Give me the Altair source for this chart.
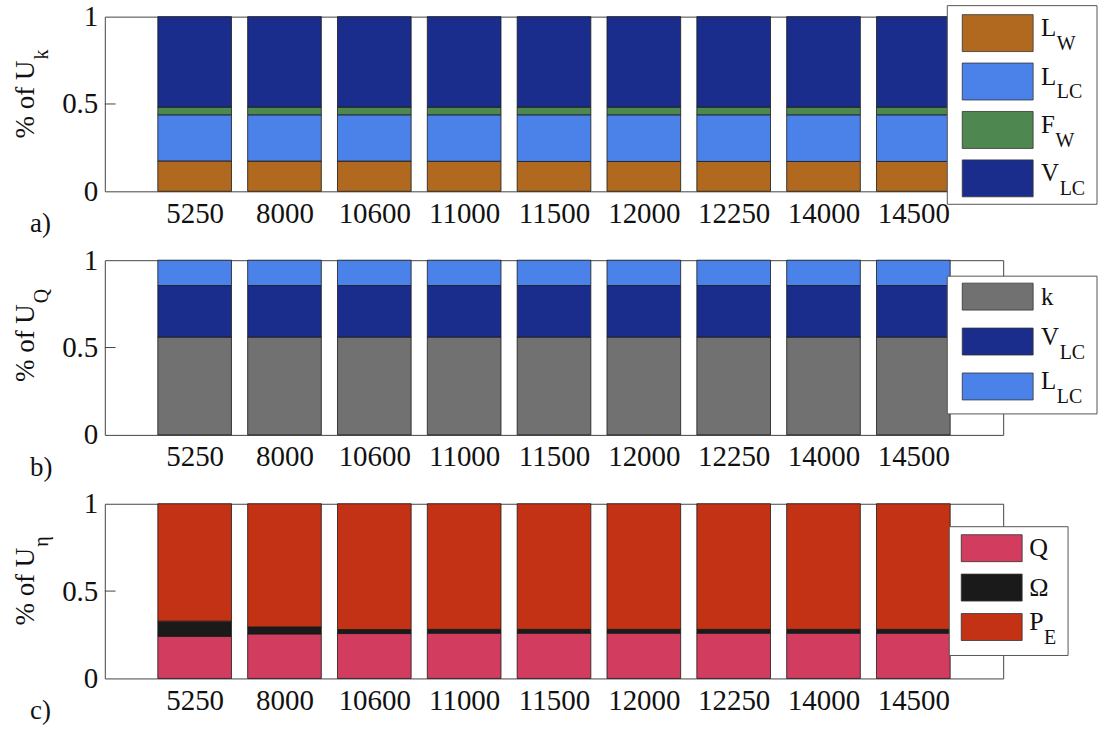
import json
import altair as alt
import pandas as pd

# Rotor speeds (x categories), shared by all three panels
SPEEDS = ["5250", "8000", "10600", "11000", "11500", "12000", "12250", "14000", "14500"]

# a) share of U_k, bottom to top
UK_SERIES = ["L_W", "L_LC", "F_W", "V_LC"]
UK_L_W = [0.174, 0.173, 0.173, 0.172, 0.171, 0.171, 0.171, 0.171, 0.171]
UK_L_LC = [0.264, 0.265, 0.265, 0.266, 0.267, 0.267, 0.267, 0.267, 0.267]
UK_F_W = [0.044, 0.044, 0.044, 0.044, 0.044, 0.044, 0.044, 0.044, 0.044]
UK_V_LC = [0.518, 0.518, 0.518, 0.518, 0.518, 0.518, 0.518, 0.518, 0.518]

# b) share of U_Q, bottom to top
UQ_SERIES = ["k", "V_LC", "L_LC"]
UQ_K = [0.560, 0.560, 0.560, 0.560, 0.560, 0.560, 0.560, 0.560, 0.560]
UQ_V_LC = [0.295, 0.295, 0.295, 0.295, 0.295, 0.295, 0.295, 0.295, 0.295]
UQ_L_LC = [0.145, 0.145, 0.145, 0.145, 0.145, 0.145, 0.145, 0.145, 0.145]

# c) share of U_eta, bottom to top
UE_SERIES = ["Q", "Omega", "P_E"]
UE_Q = [0.241, 0.255, 0.257, 0.259, 0.259, 0.259, 0.259, 0.259, 0.259]
UE_OMEGA = [0.087, 0.040, 0.023, 0.022, 0.022, 0.022, 0.022, 0.022, 0.022]
UE_P_E = [0.672, 0.705, 0.720, 0.719, 0.719, 0.719, 0.719, 0.719, 0.719]

COLORS = {
    "a": ["#B0691F", "#4A82EA", "#4E8850", "#1B2D8C"],
    "b": ["#717171", "#1B2D8C", "#4A82EA"],
    "c": ["#D23C5F", "#1A1A1A", "#C33214"],
}

FONT = "Liberation Serif"
INK = "#111111"
W, H = 900, 175
X_DOMAIN = [0, 10]
HALF_BAR = 0.41


def long_table(series, columns):
    rows = []
    for order, (name, vals) in enumerate(zip(series, columns)):
        for i, (speed, v) in enumerate(zip(SPEEDS, vals)):
            rows.append({"speed": speed, "idx": i + 1, "series": name,
                         "order": order, "value": v})
    return pd.DataFrame(rows)


ONE = alt.Data(values=[{"d": 0}])


def text_layer(txt, x, y, size, angle=0, align="left", baseline="alphabetic"):
    kw = dict(font=FONT, fontSize=size, color=INK, align=align, baseline=baseline)
    if angle:
        kw["angle"] = angle
    return alt.Chart(ONE).mark_text(**kw).encode(
        x=alt.value(x), y=alt.value(y), text=alt.value(txt))


# advance widths (em) of the serif glyphs used in the legends
ADV = {"L": 0.611, "F": 0.556, "V": 0.722, "P": 0.556, "k": 0.5, "Q": 0.722, "Ω": 0.768}


def legend_layers(box, swatch_x, tops, sw_h, text_x, entries, colors, size=25, sub_size=20):
    layers = [alt.Chart(ONE).mark_rect(fill="white", stroke="#555555", strokeWidth=1).encode(
        x=alt.value(box[0]), x2=alt.value(box[1]), y=alt.value(box[2]), y2=alt.value(box[3]))]
    for (main, sub), col, top in zip(entries, colors, tops):
        layers.append(alt.Chart(ONE).mark_rect(fill=col, stroke="#333333", strokeWidth=0.8).encode(
            x=alt.value(swatch_x[0]), x2=alt.value(swatch_x[1]),
            y=alt.value(top), y2=alt.value(top + sw_h)))
        mid = top + sw_h / 2
        if sub:
            layers.append(text_layer(main, text_x, mid + 3, size))
            layers.append(text_layer(sub, text_x + ADV[main] * size + 0.5, mid + 17, sub_size))
        else:
            layers.append(text_layer(main, text_x, mid + 8, size))
    return layers


def panel(df, series, colors, sub, tag, legend, frame=False):
    label_expr = json.dumps(SPEEDS) + "[datum.value - 1]"
    xscale = alt.Scale(domain=X_DOMAIN, nice=False, zero=False)
    yscale = alt.Scale(domain=[0, 1], nice=False)
    bars = (
        alt.Chart(df)
        .transform_stack(stack="value", groupby=["speed"],
                         sort=[alt.SortField("order", order="ascending")], as_=["y0", "y1"])
        .transform_calculate(xl=f"datum.idx - {HALF_BAR}", xr=f"datum.idx + {HALF_BAR}")
        .mark_rect(stroke="#1a1a1a", strokeWidth=0.8)
        .encode(
            x=alt.X("xl:Q", scale=xscale,
                    axis=alt.Axis(values=list(range(1, 10)), labelExpr=label_expr, title=None,
                                  ticks=False, domain=False, grid=False, labelPadding=8,
                                  labelFont=FONT, labelFontSize=29, labelColor=INK,
                                  labelOverlap=False, zindex=1)),
            x2="xr:Q",
            y=alt.Y("y0:Q", scale=yscale,
                    axis=alt.Axis(values=[0, 0.5, 1], format="~g", title=None, ticks=False,
                                  domain=False, grid=False, labelPadding=7, labelFont=FONT,
                                  labelFontSize=29, labelColor=INK, zindex=1)),
            y2="y1:Q",
            color=alt.Color("series:N", scale=alt.Scale(domain=series, range=colors), legend=None),
        )
    )
    # inward tick at 0.5 on the left axis
    tick = alt.Chart(alt.Data(values=[{"a": 0, "b": 0.12, "y": 0.5}])).mark_rule(
        color="#444444", strokeWidth=1).encode(
        x=alt.X("a:Q", scale=xscale), x2="b:Q", y=alt.Y("y:Q", scale=yscale))

    layers = []
    if frame:
        # invisible rectangle spanning the whole canvas, fixes the overall layout origin
        layers.append(alt.Chart(ONE).mark_rect(fill="white", opacity=0).encode(
            x=alt.value(-104), x2=alt.value(999), y=alt.value(-15), y2=alt.value(717)))
    layers += [bars, tick]
    layers += legend
    # y title "% of U" with subscript
    layers.append(text_layer("% of U", -71, 122, 27, angle=270))
    layers.append(text_layer(sub, -57, 122 - 2.888 * 27 - 1, 20, angle=270))
    layers.append(text_layer(tag, -75, 216, 27))
    return alt.layer(*layers).properties(width=W, height=H)


df_a = long_table(UK_SERIES, [UK_L_W, UK_L_LC, UK_F_W, UK_V_LC])
df_b = long_table(UQ_SERIES, [UQ_K, UQ_V_LC, UQ_L_LC])
df_c = long_table(UE_SERIES, [UE_Q, UE_OMEGA, UE_P_E])

leg_a = legend_layers(box=(844, 994, -11, 188), swatch_x=(859, 930), tops=[-2, 46.5, 95, 143.5],
                      sw_h=37, text_x=938,
                      entries=[("L", "W"), ("L", "LC"), ("F", "W"), ("V", "LC")], colors=COLORS["a"])
leg_b = legend_layers(box=(844, 994, 16, 154), swatch_x=(859, 930), tops=[23, 68, 113],
                      sw_h=27, text_x=938,
                      entries=[("k", ""), ("V", "LC"), ("L", "LC")], colors=COLORS["b"])
leg_c = legend_layers(box=(846, 965, 23, 152), swatch_x=(858, 919), tops=[31, 70.5, 110],
                      sw_h=27, text_x=926,
                      entries=[("Q", ""), ("Ω", ""), ("P", "E")], colors=COLORS["c"], size=26)

pa = panel(df_a, UK_SERIES, COLORS["a"], "k", "a)", leg_a, frame=True)
pb = panel(df_b, UQ_SERIES, COLORS["b"], "Q", "b)", leg_b)
pc = panel(df_c, UE_SERIES, COLORS["c"], "η", "c)", leg_c)

chart = (
    alt.vconcat(pa, pb, pc, spacing=69, bounds="flush")
    .resolve_scale(color="independent")
    .properties(padding={"left": 0, "top": 0, "right": 0, "bottom": 0}, background="white")
    .configure_view(stroke="#444444", strokeWidth=1)
)

chart.save("out.html", embed_options={"renderer": "svg", "actions": False})
